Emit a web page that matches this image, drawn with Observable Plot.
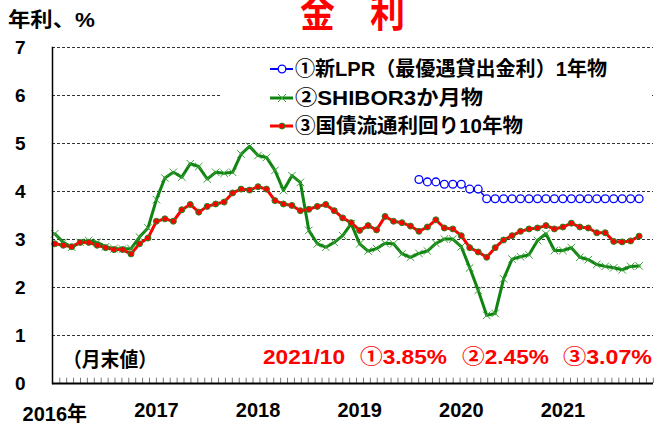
<!DOCTYPE html>
<html><head><meta charset="utf-8">
<script src="https://cdn.jsdelivr.net/npm/d3@7"></script>
<script src="https://cdn.jsdelivr.net/npm/@observablehq/plot@0.6"></script>
<style>
body{margin:0;background:#fff}
#chart svg{display:block}
</style></head><body><div id="chart"></div>
<script>
// Monthly data, Jan 2016 (index 0) .. Oct 2021 (index 69)
const yearLabels = ["2016年","2017","2018","2019","2020","2021"];
const yearIdx = [0,12,24,36,48,60];
const yTicks = [0,1,2,3,4,5,6,7];
const seriesNames = ["①新LPR（最優遇貸出金利）1年物","②SHIBOR3か月物","③国債流通利回り10年物"];
const bond10y = [
  2.91,2.88,2.85,2.94,2.94,2.88,2.83,2.79,2.79,2.70,2.91,3.03,
  3.38,3.43,3.38,3.62,3.73,3.57,3.69,3.74,3.78,3.97,4.05,4.03,
  4.10,4.05,3.81,3.74,3.71,3.60,3.63,3.69,3.73,3.60,3.45,3.35,
  3.19,3.29,3.20,3.48,3.38,3.35,3.28,3.17,3.26,3.41,3.24,3.22,
  3.08,2.83,2.74,2.63,2.83,2.99,3.08,3.17,3.22,3.24,3.29,3.22,
  3.26,3.34,3.26,3.24,3.14,3.14,2.96,2.95,2.97,3.07
];
const shibor3m = [
  3.12,2.94,2.84,2.94,2.98,2.94,2.85,2.81,2.80,2.81,3.05,3.24,
  3.83,4.28,4.40,4.30,4.58,4.52,4.26,4.40,4.38,4.40,4.78,4.94,
  4.75,4.71,4.44,4.02,4.33,4.19,3.19,2.91,2.84,2.94,3.08,3.33,
  2.91,2.76,2.81,2.92,2.91,2.70,2.63,2.71,2.76,2.92,3.01,3.01,
  2.85,2.41,1.94,1.42,1.46,2.18,2.59,2.64,2.68,2.98,3.12,2.77,
  2.77,2.83,2.63,2.58,2.48,2.44,2.41,2.37,2.44,2.45
];
const lprStart = 43; // Aug 2019
const lpr1y = [4.25,4.20,4.20,4.15,4.15,4.15,4.05,4.05,
  3.85,3.85,3.85,3.85,3.85,3.85,3.85,3.85,3.85,3.85,
  3.85,3.85,3.85,3.85,3.85,3.85,3.85,3.85,3.85];
const latestLabel = "2021/10";
const latestValues = ["①3.85%","②2.45%","③3.07%"];

const bond = bond10y.map((v,i)=>({i,v}));
const shibor = shibor3m.map((v,i)=>({i,v}));
const lpr = lpr1y.map((v,k)=>({i:k+lprStart,v}));
const minorTicks = d3.range(0.59, 70.7, 0.815);

const FONT = '"Liberation Sans","Noto Sans CJK JP",sans-serif';
const GREEN = "#108410", RED = "#ff0000", BLUE = "#0000ff";

const chart = Plot.plot({
  width:657, height:426,
  marginLeft:52, marginRight:4, marginTop:47, marginBottom:43,
  style:{fontFamily:FONT, background:"#fff", color:"#000"},
  x:{domain:[-0.27,70.7]},
  y:{domain:[0,7]},
  marks:[
    Plot.ruleY(yTicks.slice(1), {stroke:"#333", strokeDasharray:"3,2", strokeWidth:1}),
    Plot.ruleX(minorTicks, {y1:0, y2:0.11, stroke:"#777", strokeWidth:1}),
    Plot.axisY({ticks:yTicks, tickFormat:d=>String(d), tickSize:0, tickPadding:27, fontSize:19, fontWeight:"bold", label:null}),
    Plot.axisX({ticks:yearIdx, tickFormat:d=>yearLabels[yearIdx.indexOf(d)], tickSize:0, tickPadding:19, fontSize:20, fontWeight:"bold", label:null}),
    Plot.line(shibor, {x:"i", y:"v", stroke:GREEN, strokeWidth:3}),
    Plot.dot(shibor, {x:"i", y:"v", symbol:"times", r:3.5, stroke:"#3aa03a", strokeWidth:1}),
    Plot.line(bond, {x:"i", y:"v", stroke:RED, strokeWidth:3}),
    Plot.dot(bond, {x:"i", y:"v", r:3, fill:RED, stroke:"#1f8a1f", strokeWidth:1}),
    Plot.line(lpr, {x:"i", y:"v", stroke:BLUE, strokeWidth:1.5}),
    Plot.dot(lpr, {x:"i", y:"v", r:3.9, fill:"#fff", stroke:BLUE, strokeWidth:1.3}),
    Plot.frame({anchor:"left", stroke:"#000", strokeWidth:1.5}),
    Plot.ruleY([0], {stroke:"#000", strokeWidth:2})
  ]
});
document.getElementById("chart").appendChild(chart);

const svg = d3.select(chart);
// shift first year label slightly lower
svg.selectAll('[aria-label="x-axis tick label"] text').filter((d,i)=>i===0).each(function(){
  const el = d3.select(this);
  const t = el.attr("transform") || "";
  el.attr("transform", t + " translate(0,4)");
});

const layer = svg.append("g").attr("text-anchor","start");
function addText(txt, x, y, size, fill, len){
  const t = layer.append("text").attr("x",x).attr("y",y)
    .attr("text-anchor","start")
    .attr("font-family",FONT).attr("font-size",size).attr("font-weight","bold")
    .attr("fill",fill).text(txt);
  if (len) t.attr("textLength",len).attr("lengthAdjust","spacingAndGlyphs");
  return t;
}
// title & unit
addText("金　利", 300, 27, 40, RED, 105);
addText("年利、%", 8, 27, 20, "#000", 87);

// legend box
layer.append("rect").attr("x",222).attr("y",52).attr("width",430).attr("height",88).attr("fill","#fff");
const rows = [76,105,133];
const legendW = [312,188,228];
// row 1: blue
layer.append("line").attr("x1",270).attr("x2",293).attr("y1",rows[0]-7).attr("y2",rows[0]-7).attr("stroke",BLUE).attr("stroke-width",2);
layer.append("circle").attr("cx",282).attr("cy",rows[0]-7).attr("r",3.8).attr("fill","#fff").attr("stroke",BLUE).attr("stroke-width",1.3);
// row 2: green
layer.append("line").attr("x1",270).attr("x2",293).attr("y1",rows[1]-7).attr("y2",rows[1]-7).attr("stroke",GREEN).attr("stroke-width",3);
layer.append("path").attr("d",`M278,${rows[1]-11}L286,${rows[1]-3}M278,${rows[1]-3}L286,${rows[1]-11}`).attr("fill","none").attr("stroke","#3aa03a").attr("stroke-width",1);
// row 3: red
layer.append("line").attr("x1",270).attr("x2",293).attr("y1",rows[2]-7).attr("y2",rows[2]-7).attr("stroke",RED).attr("stroke-width",3);
layer.append("circle").attr("cx",282).attr("cy",rows[2]-7).attr("r",3).attr("fill",RED).attr("stroke","#1f8a1f").attr("stroke-width",1);
seriesNames.forEach((s,k)=>addText(s, 295, rows[k], 20, "#000", legendW[k]));

// annotations
addText("（月末値）", 63, 367, 20, "#000", 94);
addText(latestLabel, 263, 364, 20, RED, 82);
const annX = [360,462,563], annW = [87,87,89];
latestValues.forEach((s,k)=>addText(s, annX[k], 364, 20, RED, annW[k]));
</script></body></html>
